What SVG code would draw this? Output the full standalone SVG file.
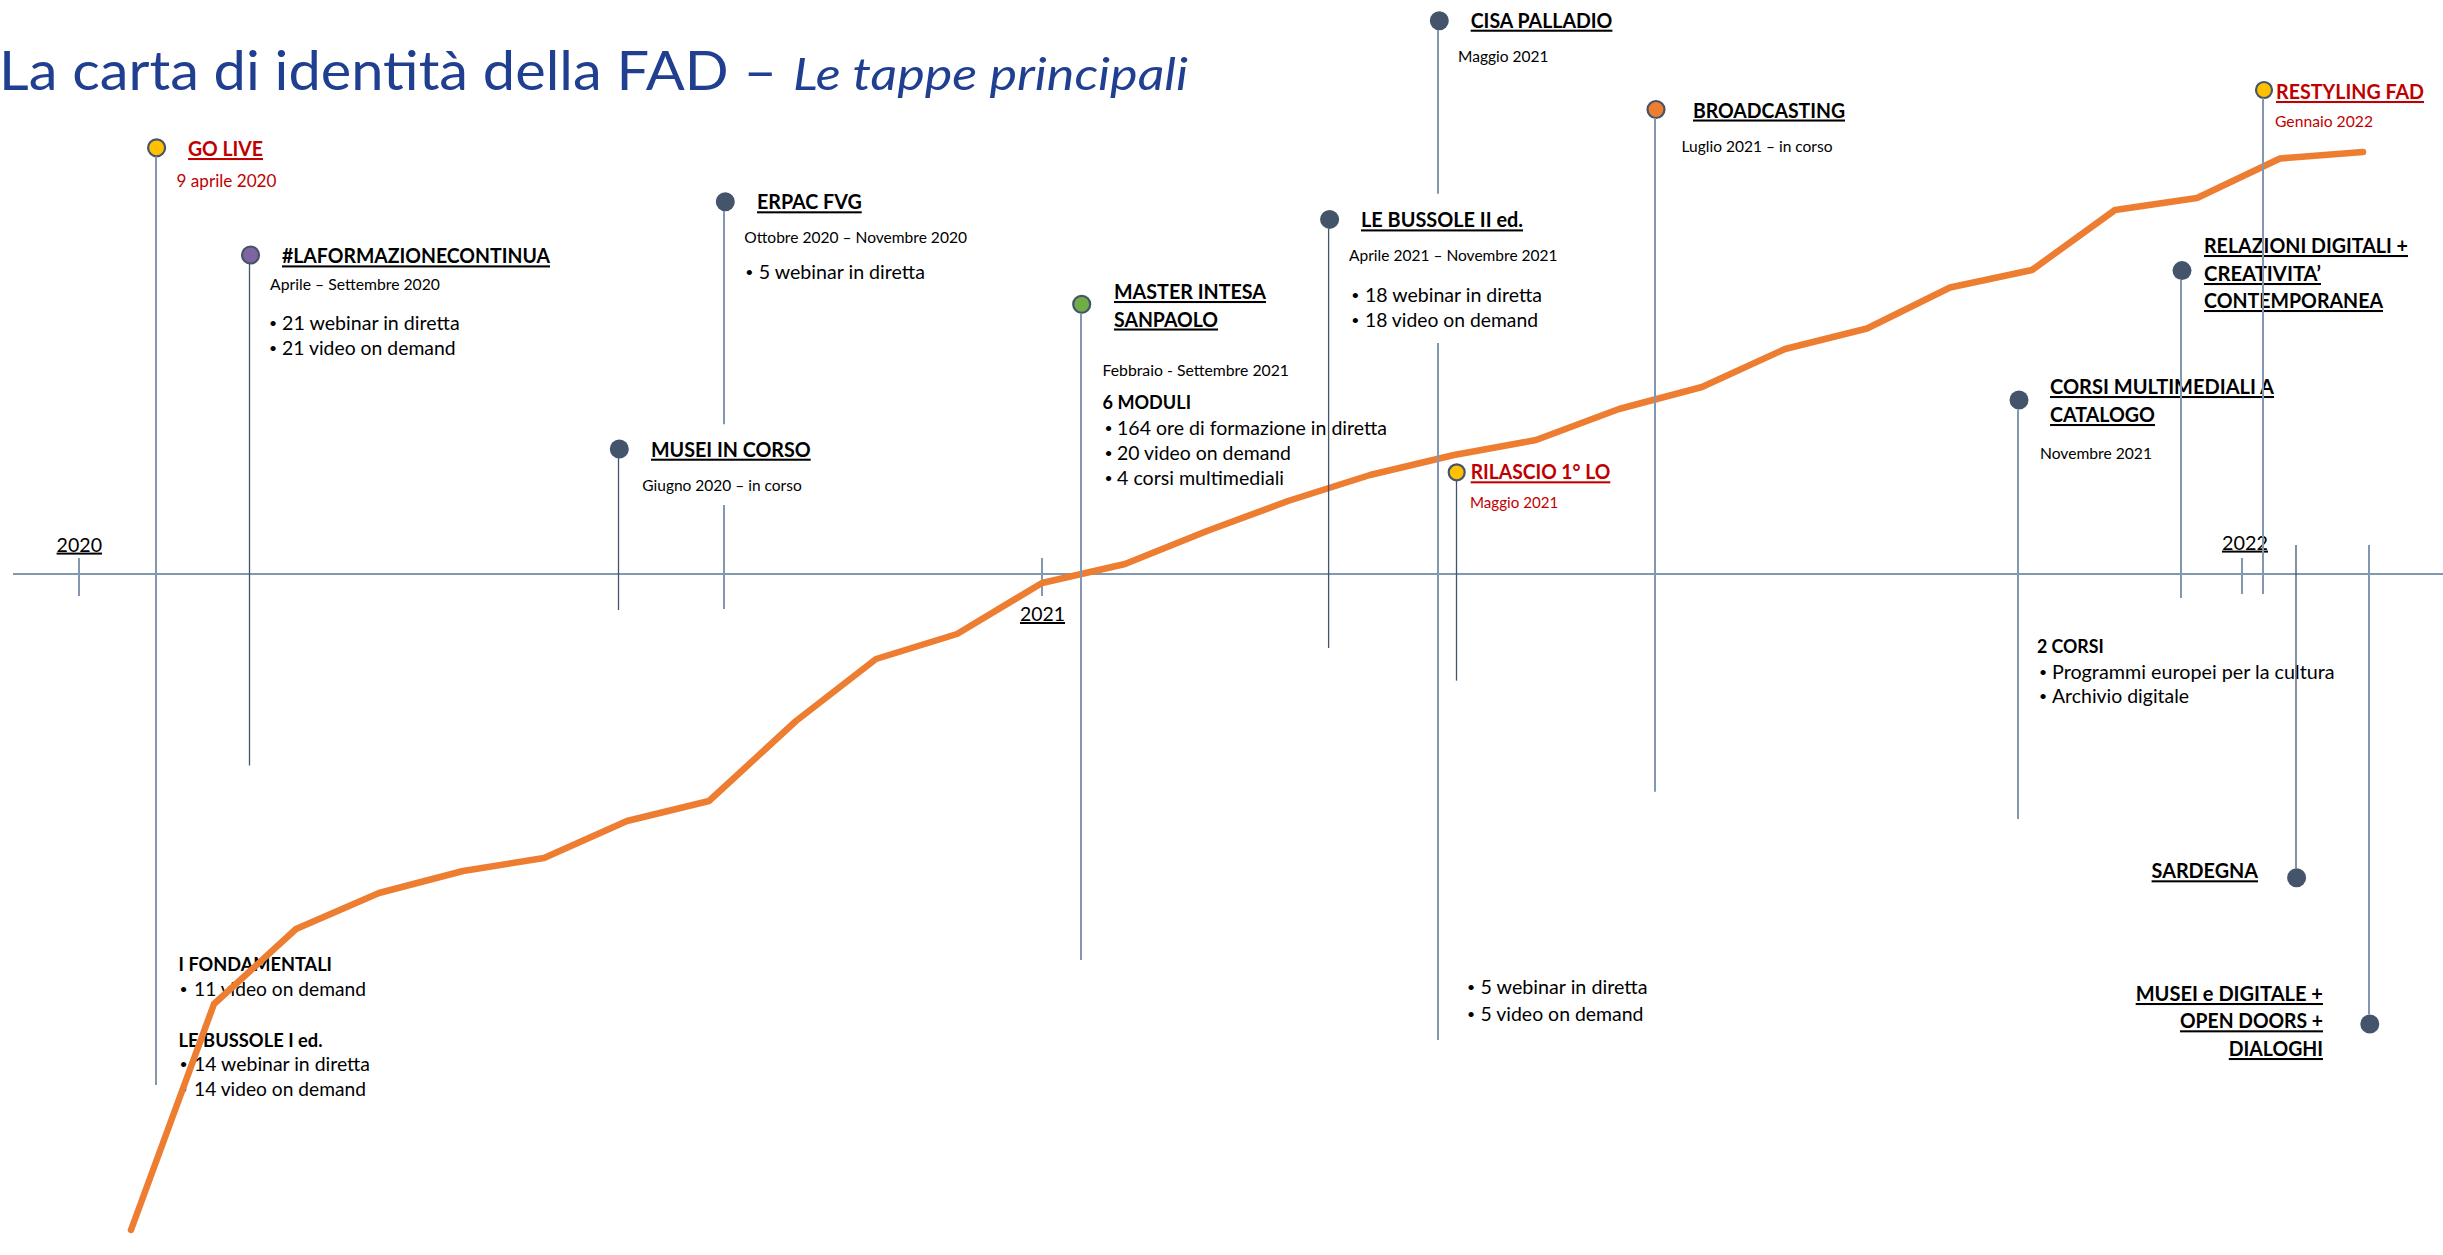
<svg xmlns="http://www.w3.org/2000/svg" width="2443" height="1255" viewBox="0 0 2443 1255">
<style>
text{font-family:Lato,"Liberation Sans",Arial,sans-serif;fill:#000}
.t{font-size:55px;fill:#203F91}
.ti{font-size:45.5px;font-style:italic;fill:#203F91}
.h{font-size:20.5px;font-weight:bold;text-decoration:underline}
.red{fill:#C00000}
.d{font-size:15.5px}
.dr{font-size:16px;fill:#C00000}
.b{font-size:19px}
.u{font-size:14px}
.bb{font-size:19px;font-weight:bold}
.yr{font-size:20px;text-decoration:underline}
.ln{stroke:#8497B0;stroke-width:2;fill:none}
.lnd{stroke:#44546A;stroke-width:1.3;fill:none}
.dk{fill:#44546A}
.cl{stroke:#44546A;stroke-width:2.2}
</style>
<g id="title">
<text class="t" x="-1" y="89.5" textLength="778" lengthAdjust="spacingAndGlyphs">La carta di identità della FAD –</text>
<text class="ti" x="793" y="89.5" textLength="395" lengthAdjust="spacingAndGlyphs">Le tappe principali</text>
</g>
<g id="axis">
<line class="ln" x1="13" y1="574" x2="2443" y2="574"/>
<line class="ln" x1="79" y1="558" x2="79" y2="596" stroke-width="1.5"/>
<line class="ln" x1="1042" y1="558" x2="1042" y2="596" stroke-width="1.5"/>
<line class="ln" x1="2242" y1="558" x2="2242" y2="594" stroke-width="1.5"/>
<text class="yr" x="56.6" y="551.6" textLength="45.4" lengthAdjust="spacingAndGlyphs">2020</text>
<text class="yr" x="1020" y="621" textLength="45" lengthAdjust="spacingAndGlyphs">2021</text>
<text class="yr" x="2222" y="549.6" textLength="46" lengthAdjust="spacingAndGlyphs">2022</text>
</g>
<g id="node-golive">
<circle cx="156.6" cy="147.8" r="8.5" fill="#FFC000" class="cl"/>
<text class="h red" x="188" y="156" textLength="75" lengthAdjust="spacingAndGlyphs">GO LIVE</text>
<text class="dr" x="176.5" y="187" textLength="100" lengthAdjust="spacingAndGlyphs" style="font-size:17px">9 aprile 2020</text>
<text class="bb" x="178.6" y="970.7" textLength="153.4" lengthAdjust="spacingAndGlyphs">I FONDAMENTALI</text>
<text class="u" x="179.5" y="993.6">•</text>
<text class="b" x="194" y="995.6" textLength="172" lengthAdjust="spacingAndGlyphs">11 video on demand</text>
<text class="bb" x="178.6" y="1046.5" textLength="144" lengthAdjust="spacingAndGlyphs">LE BUSSOLE I ed.</text>
<text class="u" x="179.5" y="1069.4">•</text>
<text class="b" x="194" y="1071.4" textLength="176" lengthAdjust="spacingAndGlyphs">14 webinar in diretta</text>
<text class="u" x="179.5" y="1094">•</text>
<text class="b" x="194" y="1096" textLength="172" lengthAdjust="spacingAndGlyphs">14 video on demand</text>
</g>
<g id="node-laformazionecontinua">
<circle cx="250.5" cy="255" r="8.5" fill="#8064A2" class="cl"/>
<text class="h" x="282" y="263.4" textLength="268" lengthAdjust="spacingAndGlyphs">#LAFORMAZIONECONTINUA</text>
<text class="d" x="270" y="290" textLength="170" lengthAdjust="spacingAndGlyphs">Aprile – Settembre 2020</text>
<text class="u" x="269" y="327.6">•</text>
<text class="b" x="282" y="329.6" textLength="177.7" lengthAdjust="spacingAndGlyphs">21 webinar in diretta</text>
<text class="u" x="269" y="352.5">•</text>
<text class="b" x="282" y="354.5" textLength="173.6" lengthAdjust="spacingAndGlyphs">21 video on demand</text>
</g>
<g id="node-erpac">
<circle cx="725.3" cy="201.7" r="9.5" class="dk"/>
<text class="h" x="757" y="209.3" textLength="104.7" lengthAdjust="spacingAndGlyphs">ERPAC FVG</text>
<text class="d" x="744.3" y="243.3" textLength="222.7" lengthAdjust="spacingAndGlyphs">Ottobre 2020 – Novembre 2020</text>
<text class="u" x="745.3" y="277.3">•</text>
<text class="b" x="758.7" y="279.3" textLength="166.3" lengthAdjust="spacingAndGlyphs">5 webinar in diretta</text>
</g>
<g id="node-musei-in-corso">
<circle cx="619.3" cy="449" r="9.5" class="dk"/>
<text class="h" x="651" y="456.7" textLength="159.7" lengthAdjust="spacingAndGlyphs">MUSEI IN CORSO</text>
<text class="d" x="642.3" y="491" textLength="159.4" lengthAdjust="spacingAndGlyphs">Giugno 2020 – in corso</text>
</g>
<g id="node-master">
<circle cx="1081.7" cy="304.3" r="8.5" fill="#70AD47" class="cl"/>
<text class="h" x="1114" y="299" textLength="152" lengthAdjust="spacingAndGlyphs">MASTER INTESA</text>
<text class="h" x="1114" y="326.5" textLength="104" lengthAdjust="spacingAndGlyphs">SANPAOLO</text>
<text class="d" x="1102.5" y="376" textLength="186.5" lengthAdjust="spacingAndGlyphs">Febbraio - Settembre 2021</text>
<text class="bb" x="1102.5" y="409" textLength="88.5" lengthAdjust="spacingAndGlyphs">6 MODULI</text>
<text class="u" x="1104.5" y="433">•</text>
<text class="b" x="1117" y="435" textLength="270" lengthAdjust="spacingAndGlyphs">164 ore di formazione in diretta</text>
<text class="u" x="1104.5" y="458">•</text>
<text class="b" x="1117" y="460" textLength="174" lengthAdjust="spacingAndGlyphs">20 video on demand</text>
<text class="u" x="1104.5" y="483">•</text>
<text class="b" x="1117" y="485" textLength="167" lengthAdjust="spacingAndGlyphs">4 corsi multimediali</text>
</g>
<g id="node-bussole-2">
<circle cx="1329.6" cy="219.4" r="9.5" class="dk"/>
<text class="h" x="1361" y="227.4" textLength="162" lengthAdjust="spacingAndGlyphs">LE BUSSOLE II ed.</text>
<text class="d" x="1349" y="260.7" textLength="208.6" lengthAdjust="spacingAndGlyphs">Aprile 2021 – Novembre 2021</text>
<text class="u" x="1351.2" y="300">•</text>
<text class="b" x="1365" y="302" textLength="177" lengthAdjust="spacingAndGlyphs">18 webinar in diretta</text>
<text class="u" x="1351.2" y="324.6">•</text>
<text class="b" x="1365" y="326.6" textLength="173" lengthAdjust="spacingAndGlyphs">18 video on demand</text>
</g>
<g id="node-cisa">
<circle cx="1439.3" cy="20.7" r="9.5" class="dk"/>
<text class="h" x="1470.7" y="27.7" textLength="141.7" lengthAdjust="spacingAndGlyphs">CISA PALLADIO</text>
<text class="d" x="1458" y="61.7" textLength="90.5" lengthAdjust="spacingAndGlyphs">Maggio 2021</text>
<text class="u" x="1467.1" y="992.3">•</text>
<text class="b" x="1480.5" y="994.3" textLength="167" lengthAdjust="spacingAndGlyphs">5 webinar in diretta</text>
<text class="u" x="1467.1" y="1018.7">•</text>
<text class="b" x="1480.5" y="1020.7" textLength="163" lengthAdjust="spacingAndGlyphs">5 video on demand</text>
</g>
<g id="node-rilascio">
<circle cx="1456.7" cy="472.3" r="8" fill="#FFC000" class="cl"/>
<text class="h red" x="1470.7" y="479.3" textLength="139.6" lengthAdjust="spacingAndGlyphs">RILASCIO 1° LO</text>
<text class="dr" x="1470" y="508.3" textLength="88.3" lengthAdjust="spacingAndGlyphs">Maggio 2021</text>
</g>
<g id="node-broadcasting">
<circle cx="1656" cy="109.5" r="8.5" fill="#ED7D31" class="cl"/>
<text class="h" x="1693" y="117.5" textLength="152" lengthAdjust="spacingAndGlyphs">BROADCASTING</text>
<text class="d" x="1681.5" y="151.8" textLength="151" lengthAdjust="spacingAndGlyphs">Luglio 2021 – in corso</text>
</g>
<g id="node-corsi-multimediali">
<circle cx="2019" cy="400" r="9.5" class="dk"/>
<text class="h" x="2050" y="394" textLength="224" lengthAdjust="spacingAndGlyphs">CORSI MULTIMEDIALI A</text>
<text class="h" x="2050" y="422" textLength="105" lengthAdjust="spacingAndGlyphs">CATALOGO</text>
<text class="d" x="2040" y="459" textLength="112" lengthAdjust="spacingAndGlyphs">Novembre 2021</text>
<text class="bb" x="2037" y="653" textLength="66.7" lengthAdjust="spacingAndGlyphs">2 CORSI</text>
<text class="u" x="2039" y="677.3">•</text>
<text class="b" x="2052" y="679.3" textLength="282.6" lengthAdjust="spacingAndGlyphs">Programmi europei per la cultura</text>
<text class="u" x="2039" y="701.3">•</text>
<text class="b" x="2052" y="703.3" textLength="137" lengthAdjust="spacingAndGlyphs">Archivio digitale</text>
</g>
<g id="node-relazioni-digitali">
<circle cx="2182" cy="270.6" r="9.5" class="dk"/>
<text class="h" x="2204" y="253" textLength="204" lengthAdjust="spacingAndGlyphs">RELAZIONI DIGITALI +</text>
<text class="h" x="2204" y="281" textLength="117" lengthAdjust="spacingAndGlyphs">CREATIVITA’</text>
<text class="h" x="2204" y="308" textLength="179" lengthAdjust="spacingAndGlyphs">CONTEMPORANEA</text>
</g>
<g id="node-restyling">
<circle cx="2264" cy="90" r="8" fill="#FFC000" class="cl"/>
<text class="h red" x="2276" y="99" textLength="148" lengthAdjust="spacingAndGlyphs">RESTYLING FAD</text>
<text class="dr" x="2275" y="127" textLength="98" lengthAdjust="spacingAndGlyphs">Gennaio 2022</text>
</g>
<g id="node-sardegna">
<circle cx="2296.6" cy="877.7" r="9.5" class="dk"/>
<text class="h" x="2151.6" y="878.3" textLength="106.4" lengthAdjust="spacingAndGlyphs">SARDEGNA</text>
</g>
<g id="node-musei-digitale">
<circle cx="2369.8" cy="1024" r="9.5" class="dk"/>
<text class="h" x="2135.7" y="1001" textLength="187.3" lengthAdjust="spacingAndGlyphs">MUSEI e DIGITALE +</text>
<text class="h" x="2180" y="1028.3" textLength="143" lengthAdjust="spacingAndGlyphs">OPEN DOORS +</text>
<text class="h" x="2228.8" y="1056" textLength="94.2" lengthAdjust="spacingAndGlyphs">DIALOGHI</text>
</g>
<g id="growth-curve">
<polyline fill="none" stroke="#ED7D31" stroke-width="6.5" stroke-linejoin="round" stroke-linecap="round" points="131,1230 214,1004 296,929 379,893 463,871 544,858 627,821 709,801 796,721 876,659 957,634 1042,583 1125,564 1207,531 1288,501 1370,475 1454,455 1536,440 1619,409 1702,387 1785,349 1867,328.5 1950,287.5 2032,270 2115,210 2197,198 2280,158.5 2363,152"/>
</g>
<g id="connectors">
<line class="ln" x1="156" y1="156.5" x2="156" y2="1085"/>
<line class="lnd" x1="249.5" y1="264" x2="249.5" y2="765.6"/>
<line class="ln" x1="724" y1="211" x2="724" y2="424.3"/>
<line class="ln" x1="724" y1="505" x2="724" y2="609"/>
<line class="lnd" x1="618.5" y1="458" x2="618.5" y2="610"/>
<line class="ln" x1="1081" y1="313" x2="1081" y2="960" stroke-width="1.5"/>
<line class="lnd" x1="1328.6" y1="228.5" x2="1328.6" y2="648"/>
<line class="ln" x1="1438" y1="30" x2="1438" y2="193.8"/>
<line class="ln" x1="1438" y1="343" x2="1438" y2="1040"/>
<line class="lnd" x1="1456.5" y1="480.5" x2="1456.5" y2="680.7"/>
<line class="ln" x1="1655" y1="118" x2="1655" y2="791.7" stroke-width="1.5"/>
<line class="ln" x1="2018" y1="409.5" x2="2018" y2="819" stroke-width="1.3"/>
<line class="ln" x1="2181" y1="280" x2="2181" y2="598" stroke-width="1.5"/>
<line class="ln" x1="2263" y1="98" x2="2263" y2="594" stroke-width="1.5"/>
<line class="lnd" x1="2296" y1="545" x2="2296" y2="868.5"/>
<line class="ln" x1="2369" y1="545" x2="2369" y2="1014.5" stroke-width="1.5"/>
</g>
</svg>
